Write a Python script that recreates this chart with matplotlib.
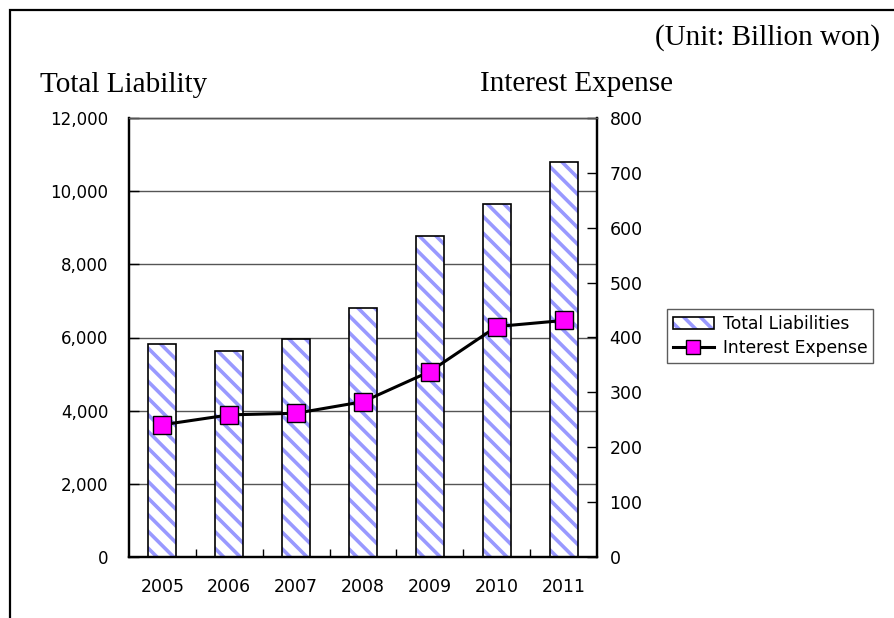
import matplotlib
matplotlib.use("Agg")
import matplotlib.pyplot as plt
from matplotlib.patches import Patch, Rectangle
from matplotlib.lines import Line2D
import numpy as np

years = ["2005", "2006", "2007", "2008", "2009", "2010", "2011"]
total_liabilities = [5820, 5630, 5970, 6810, 8780, 9650, 10810]
interest_expense = [241, 259, 262, 283, 338, 420, 431]
left_ticks = [0, 2000, 4000, 6000, 8000, 10000, 12000]
right_ticks = [0, 100, 200, 300, 400, 500, 600, 700, 800]

plt.rcParams['hatch.linewidth'] = 2.6
plt.rcParams['font.family'] = ['DejaVu Sans']

fig = plt.figure(figsize=(8.95, 6.18), dpi=100)
W, H = 895, 618
ax = fig.add_axes([129 / W, 1 - 557 / H, 468 / W, 439 / H])
ax2 = ax.twinx()

x = np.arange(len(years))
bw = 0.42
hatch_color = '#9999FF'
ax.bar(x, total_liabilities, width=bw, color='white', edgecolor=hatch_color,
       hatch='\\\\', linewidth=0, zorder=2)
ax.bar(x, total_liabilities, width=bw, fill=False, edgecolor='black',
       linewidth=1.2, zorder=3)

ax.set_xlim(-0.5, len(years) - 0.5)
ax.set_ylim(0, 12000)
ax.set_yticks(left_ticks)
ax.set_yticklabels([f"{v:,}" for v in left_ticks])
ax.yaxis.grid(True, color='#555555', linewidth=1.0, zorder=1)
ax.set_axisbelow(True)
ax.set_xticks(x)
ax.set_xticklabels(years)
ax.set_xticks(np.arange(0.5, len(years) - 1, 1.0), minor=True)
ax.tick_params(axis='x', which='major', length=0, pad=15, labelsize=12.5)
ax.tick_params(axis='x', which='minor', direction='in', length=6, width=1)
ax.tick_params(axis='y', direction='in', length=7, width=1, pad=15, labelsize=12)

ax2.plot(x, interest_expense, color='black', linewidth=2.2, marker='s',
         markersize=13, markerfacecolor='#FF00FF', markeredgecolor='black',
         markeredgewidth=1.0, zorder=5)
ax2.set_ylim(0, 800)
ax2.set_yticks(right_ticks)
ax2.tick_params(axis='y', direction='in', length=7, width=1, pad=9, labelsize=12.5)

for a in (ax, ax2):
    a.spines['top'].set_color('#555555')
    a.spines['top'].set_linewidth(1.0)
    for s in ('left', 'right', 'bottom'):
        a.spines[s].set_linewidth(1.6)
        a.spines[s].set_color('black')
ax2.patch.set_visible(False)

serif = ['Liberation Serif', 'DejaVu Serif']
fig.text(880 / W, 1 - 38 / H, "(Unit: Billion won)", ha='right', va='center',
         fontsize=21, family=serif)
fig.text(40 / W, 1 - 85 / H, "Total Liability", ha='left', va='center',
         fontsize=21, family=serif)
fig.text(480 / W, 1 - 84 / H, "Interest Expense", ha='left', va='center',
         fontsize=21, family=serif)

h1 = (Patch(facecolor='white', edgecolor=hatch_color, hatch='\\\\', linewidth=0),
      Patch(fill=False, edgecolor='black', linewidth=1.2))
h2 = Line2D([], [], color='black', linewidth=2.2, marker='s', markersize=10,
            markerfacecolor='#FF00FF', markeredgecolor='black', markeredgewidth=1.0)
leg = fig.legend([h1, h2], ["Total Liabilities", "Interest Expense"],
                 loc='upper left', bbox_to_anchor=(667 / W, 1 - 309 / H),
                 frameon=True, fancybox=False, edgecolor='#333333',
                 fontsize=12.3, handlelength=2.4, handletextpad=0.5,
                 borderpad=0.35, labelspacing=0.35, borderaxespad=0)
leg.get_frame().set_linewidth(1.0)

fig.patches.append(Rectangle((10 / W, -0.1), 1.2, 1 - 10 / H + 0.1,
                             transform=fig.transFigure, fill=False,
                             edgecolor='black', linewidth=1.6, figure=fig))

fig.savefig("out.png", dpi=100)
